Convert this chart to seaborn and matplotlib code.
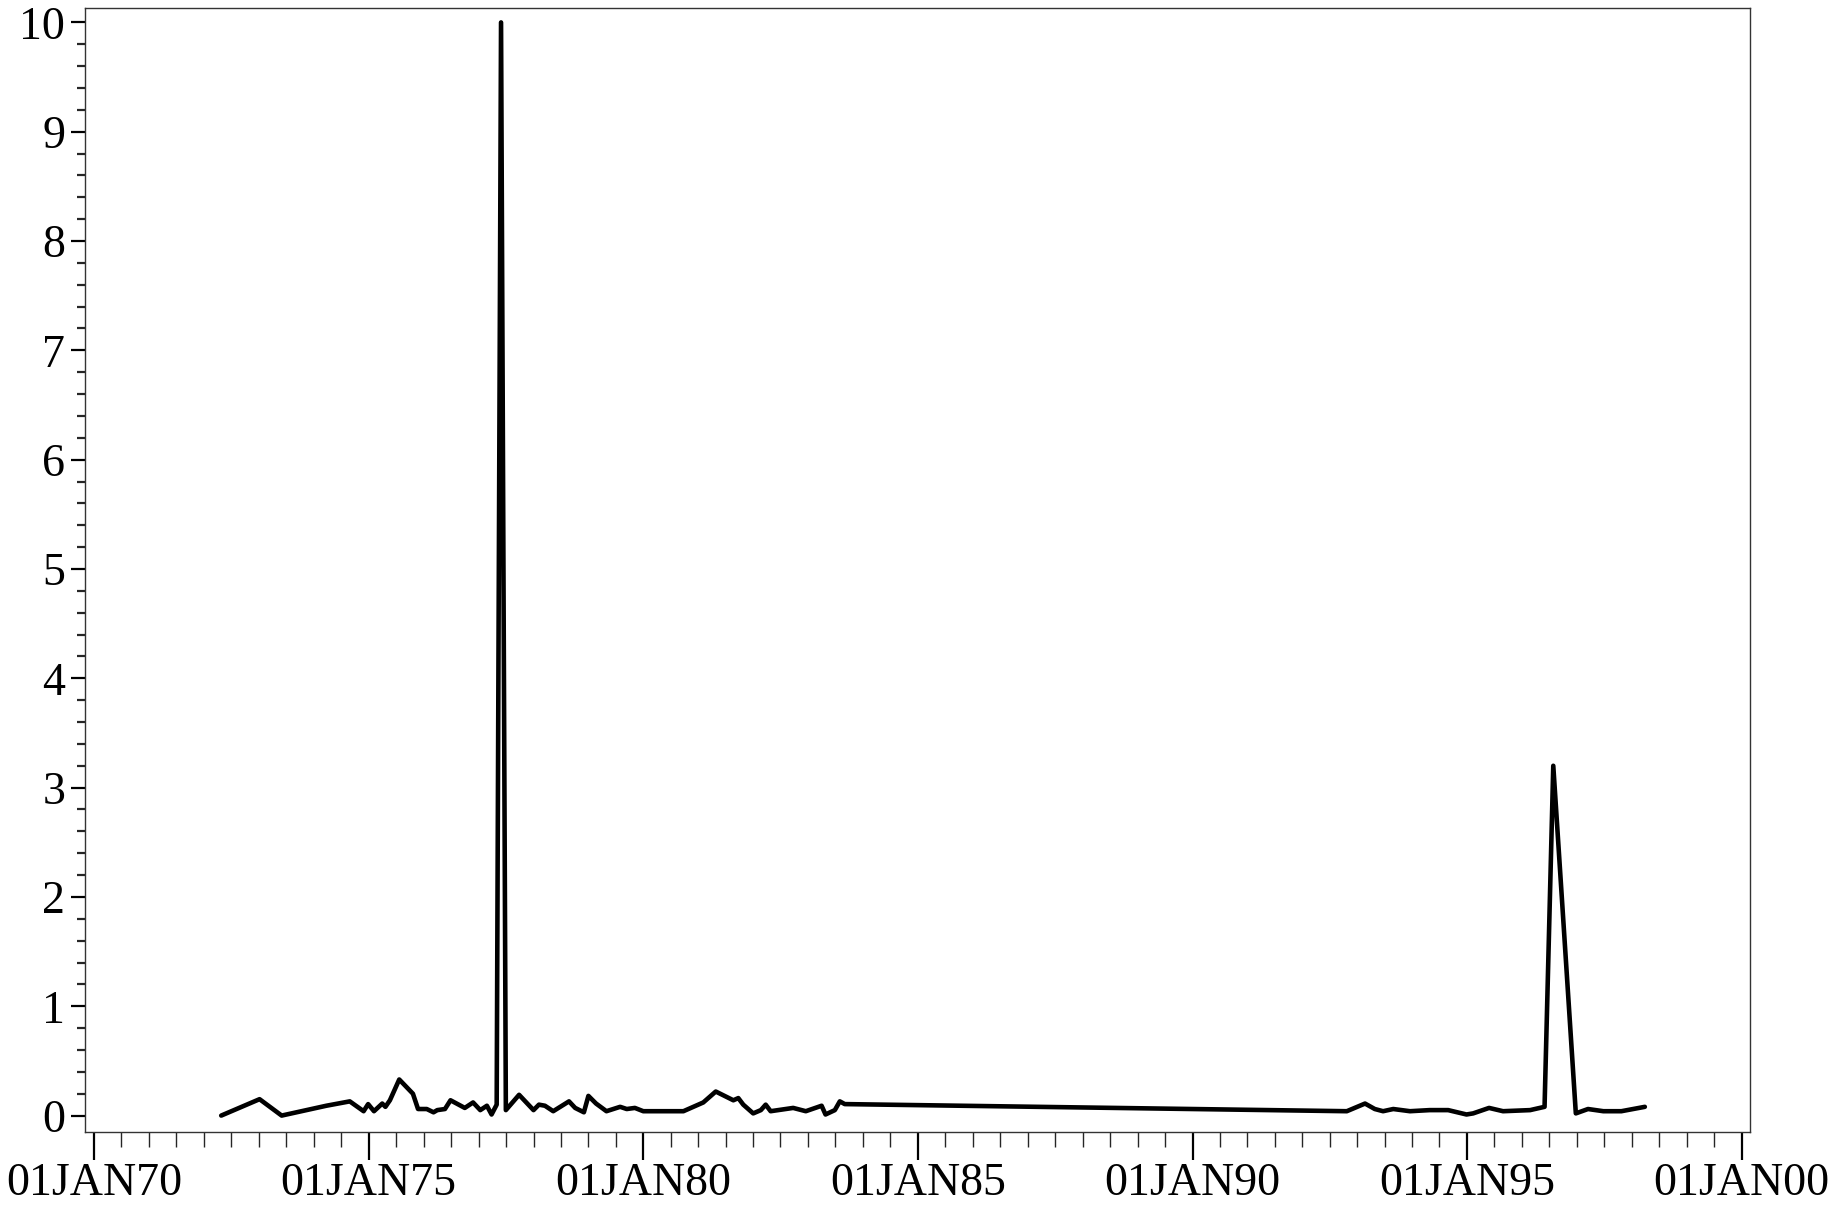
import pandas as pd
import matplotlib
matplotlib.use('Agg')
import matplotlib.pyplot as plt
import matplotlib.dates as mdates
from matplotlib.ticker import FuncFormatter, MultipleLocator
import seaborn as sns

dates = ['1972-04-25', '1973-01-05', '1973-06-01', '1974-03-25', '1974-08-28',
         '1974-11-28', '1974-12-28', '1975-02-05', '1975-04-01', '1975-04-22',
         '1975-05-22', '1975-07-23', '1975-10-22', '1975-11-25', '1976-01-22',
         '1976-03-07', '1976-04-01', '1976-05-22', '1976-06-28', '1976-10-01',
         '1976-11-25', '1977-01-12', '1977-02-25', '1977-03-28', '1977-05-01',
         '1977-05-30', '1977-07-01', '1977-09-27', '1978-01-01', '1978-02-06',
         '1978-03-18', '1978-05-12', '1978-08-25', '1978-10-05', '1978-12-02',
         '1979-01-01', '1979-02-21', '1979-05-01', '1979-07-31', '1979-09-13',
         '1979-11-06', '1980-01-01', '1980-09-24', '1981-02-03', '1981-04-27',
         '1981-08-22', '1981-09-24', '1981-10-27', '1982-01-01', '1982-02-21',
         '1982-03-25', '1982-04-27', '1982-09-24', '1982-12-17', '1983-04-01',
         '1983-04-27', '1983-06-28', '1983-07-31', '1983-09-02', '1992-10-23',
         '1993-02-21', '1993-04-27', '1993-06-21', '1993-08-28', '1993-12-17',
         '1994-04-27', '1994-08-28', '1994-12-28', '1995-02-10', '1995-05-27',
         '1995-08-28', '1996-02-24', '1996-05-30', '1996-07-27', '1996-12-24',
         '1997-03-15', '1997-06-25', '1997-10-23', '1998-03-28']
values = [0.00, 0.15, 0.00, 0.09, 0.13,
          0.04, 0.105, 0.04, 0.11, 0.08,
          0.14, 0.33, 0.20, 0.06, 0.06,
          0.03, 0.05, 0.06, 0.14, 0.07,
          0.12, 0.05, 0.09, 0.01, 0.10,
          10.0, 0.05, 0.19, 0.05, 0.10,
          0.09, 0.04, 0.13, 0.07, 0.03,
          0.18, 0.11, 0.04, 0.08, 0.06,
          0.07, 0.04, 0.04, 0.12, 0.22,
          0.14, 0.16, 0.10, 0.02, 0.05,
          0.10, 0.04, 0.07, 0.04, 0.09,
          0.01, 0.05, 0.13, 0.105, 0.04,
          0.11, 0.06, 0.04, 0.06, 0.04,
          0.05, 0.05, 0.01, 0.02, 0.07,
          0.04, 0.05, 0.08, 3.2, 0.02,
          0.06, 0.04, 0.04, 0.08]

df = pd.DataFrame({'date': pd.to_datetime(dates), 'value': values})

sns.set_style('ticks')
plt.rcParams['font.family'] = ['Liberation Serif', 'DejaVu Serif']

fig = plt.figure(figsize=(18.45, 12.05), dpi=100)
ax = fig.add_axes([0.0459, 0.0606, 0.9025, 0.9326])

sns.lineplot(data=df, x='date', y='value', color='black', linewidth=3.3, ax=ax)

ax.set_xlim(pd.Timestamp('1969-10-30'), pd.Timestamp('2000-02-24'))
ax.set_ylim(-0.15, 10.13)

ax.xaxis.set_major_locator(mdates.YearLocator(5))
ax.xaxis.set_minor_locator(mdates.MonthLocator(bymonth=[1, 7]))
ax.xaxis.set_major_formatter(FuncFormatter(
    lambda x, pos: mdates.num2date(x).strftime('%d%b%y').upper()))
ax.yaxis.set_major_locator(MultipleLocator(1))
ax.yaxis.set_minor_locator(MultipleLocator(0.2))

ax.tick_params(axis='both', which='major', labelsize=33, colors='black', width=1.6)
ax.tick_params(axis='x', which='major', length=20, pad=2)
ax.tick_params(axis='x', which='minor', length=11, width=1.0)
ax.tick_params(axis='y', which='major', length=10, pad=4)
ax.tick_params(axis='y', which='minor', length=6, width=1.6)

for s in ax.spines.values():
    s.set_visible(True)
    s.set_linewidth(1.0)
    s.set_color('#333333')

ax.set_xlabel('')
ax.set_ylabel('')

fig.savefig('out.png', dpi=100)
